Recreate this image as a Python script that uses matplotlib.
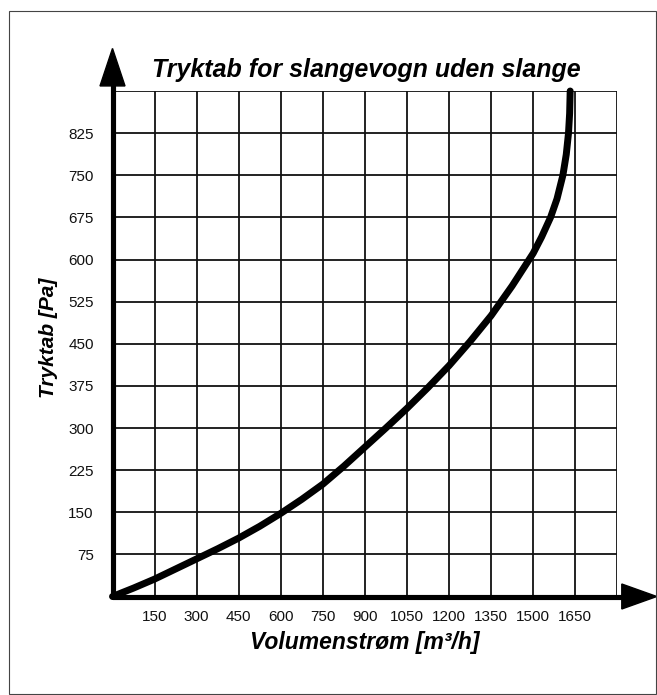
import matplotlib
matplotlib.use("Agg")
import matplotlib.pyplot as plt
from matplotlib.patches import Polygon, Rectangle

plt.rcParams['font.family'] = ['Liberation Sans', 'DejaVu Sans']

# data (Q in m3/h, dp in Pa)
flow = [0, 75, 150, 225, 300, 375, 450, 525, 600, 675, 750, 825, 900, 975, 1050, 1125,
        1200, 1275, 1350, 1425, 1500, 1530, 1562, 1585, 1606, 1618, 1626, 1630, 1632]
pressure = [0, 15, 31, 49, 67, 85, 104, 125, 148, 173, 200, 232, 266, 300, 335, 372,
            411, 454, 500, 553, 611, 640, 675, 708, 750, 787, 825, 860, 900]

x_ticks = list(range(0, 1801, 150))
y_ticks = list(range(0, 901, 75))
x_labels = ["" if v in (0, 1800) else str(v) for v in x_ticks]
y_labels = ["" if v in (0, 900) else str(v) for v in y_ticks]

W, H = 657, 695
fig = plt.figure(figsize=(W / 100, H / 100), dpi=100)

# axes box in pixels: x 112.5..617.3, y 91..596.5
ax = fig.add_axes([112.5 / W, 1 - 596.5 / H, (617.3 - 112.5) / W, (596.5 - 91) / H])
ax.set_xlim(0, 1800)
ax.set_ylim(0, 900)
ax.set_xticks(x_ticks)
ax.set_xticklabels(x_labels)
ax.set_yticks(y_ticks)
ax.set_yticklabels(y_labels)
ax.tick_params(length=0, labelsize=11, colors="#111111")
ax.tick_params(axis="x", pad=10)
ax.tick_params(axis="y", pad=13.5)
ax.grid(True, color="#111111", linewidth=1.3)
for s in ax.spines.values():
    s.set_visible(False)

# pixel -> data unit helpers
px_x = 1800 / (617.3 - 112.5)
px_y = 900 / (596.5 - 91)

# thick axes with arrow heads
ax.plot([0, 0], [0, 909], color="black", lw=3.7, solid_capstyle="round", clip_on=False, zorder=5)
ax.plot([0, 1816], [0, 0], color="black", lw=3.7, solid_capstyle="round", clip_on=False, zorder=5)
ax.add_patch(Polygon([(-12.5 * px_x, 909), (12.5 * px_x, 909), (0, 909 + 37.5 * px_y)],
                     closed=True, color="black", clip_on=False, zorder=6))
ax.add_patch(Polygon([(1816, -12.5 * px_y), (1816, 12.5 * px_y), (1816 + 35 * px_x, 0)],
                     closed=True, color="black", clip_on=False, zorder=6))

# curve
ax.plot(flow, pressure, color="black", lw=5, solid_capstyle="round", solid_joinstyle="round",
        clip_on=False, zorder=7)

fig.text(366 / W, 1 - 77.5 / H, "Tryktab for slangevogn uden slange", ha="center", va="baseline",
         fontsize=18, fontweight="bold", fontstyle="italic")
fig.text(365 / W, 1 - 642 / H, "Volumenstrøm [m³/h]", ha="center", va="center",
         fontsize=16.5, fontweight="bold", fontstyle="italic")
fig.text(48 / W, 1 - 338 / H, "Tryktab [Pa]", ha="center", va="center", rotation=90,
         fontsize=15, fontweight="bold", fontstyle="italic")

# outer frame
fig.patches.append(Rectangle((9 / W, 1 / H), (W - 10) / W, (H - 12) / H, transform=fig.transFigure,
                             fill=False, edgecolor="#444444", linewidth=0.8))

fig.savefig("out.png", dpi=100)
